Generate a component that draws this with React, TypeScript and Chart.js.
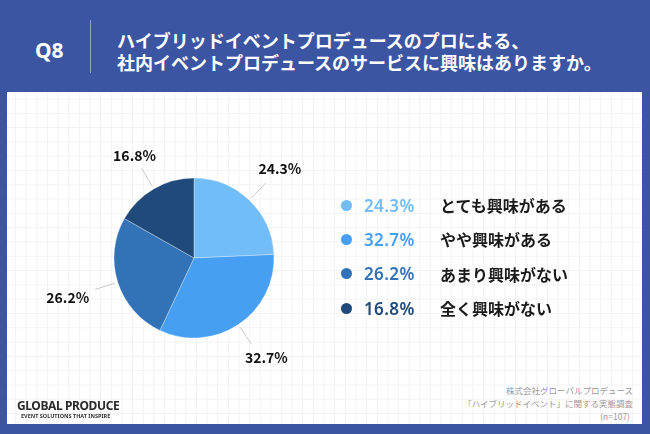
import React, { useEffect, useRef } from "react";
import { Chart, registerables } from "chart.js";

Chart.register(...registerables);

const categories = ["とても興味がある", "やや興味がある", "あまり興味がない", "全く興味がない"];
const values = [24.3, 32.7, 26.2, 16.8];
const colors = ["#72bcf7", "#479ff4", "#3273b7", "#1f4a7b"];
const questionNo = "Q8";
const titleLines = [
  "ハイブリッドイベントプロデュースのプロによる、",
  "社内イベントプロデュースのサービスに興味はありますか。",
];
const sourceLines = ["株式会社グローバルプロデュース", "「ハイブリッドイベント」に関する実態調査", "(n=107)"];
const logoMain = "GLOBAL PRODUCE";
const logoSub = "EVENT SOLUTIONS THAT INSPIRE";

const FONT = '"Noto Sans CJK JP", "Noto Sans", sans-serif';
const BLUE = "rgb(59,85,163)";

const fmt = (v: number) => `${v.toFixed(1)}%`;

const outLabels = {
  id: "outLabels",
  afterDatasetsDraw(chart: any) {
    const ctx = chart.ctx;
    const meta = chart.getDatasetMeta(0);
    meta.data.forEach((arc: any, i: number) => {
      const { x, y, startAngle, endAngle, outerRadius } = arc.getProps(
        ["x", "y", "startAngle", "endAngle", "outerRadius"],
        true
      );
      const mid = (startAngle + endAngle) / 2;
      const c = Math.cos(mid);
      const s = Math.sin(mid);
      ctx.save();
      ctx.strokeStyle = "#c9c9c9";
      ctx.lineWidth = 1;
      ctx.beginPath();
      ctx.moveTo(x + c * (outerRadius + 3), y + s * (outerRadius + 3));
      ctx.lineTo(x + c * (outerRadius + 24), y + s * (outerRadius + 24));
      ctx.stroke();
      const d = outerRadius + 22 + 32 * Math.abs(c);
      ctx.fillStyle = "#111";
      ctx.font = `bold 14px ${FONT}`;
      ctx.textAlign = "center";
      ctx.textBaseline = "middle";
      ctx.fillText(fmt(values[i]), x + c * d + (s > 0.3 && c > 0 ? 6 : 0), y + s * d);
      ctx.restore();
    });
  },
};

function PieChart() {
  const ref = useRef<HTMLCanvasElement | null>(null);
  useEffect(() => {
    if (!ref.current) return;
    const chart = new Chart(ref.current, {
      type: "pie",
      data: {
        labels: categories,
        datasets: [
          {
            data: values,
            backgroundColor: colors,
            borderColor: "rgba(255,255,255,0.3)",
            borderWidth: 1,
          },
        ],
      },
      options: {
        animation: false,
        responsive: false,
        maintainAspectRatio: false,
        layout: { padding: { left: 99.5, right: 99.5, top: 69.5, bottom: 69.5 } },
        plugins: { legend: { display: false }, tooltip: { enabled: false } },
      },
      plugins: [outLabels],
    });
    return () => chart.destroy();
  }, []);
  return (
    <canvas
      ref={ref}
      width={360}
      height={300}
      style={{ position: "absolute", left: 13.5, top: 108, width: 360, height: 300 }}
    />
  );
}

export default function App() {
  return (
    <div
      style={{
        position: "fixed",
        left: 0,
        top: 0,
        width: 650,
        height: 434,
        background: BLUE,
        overflow: "hidden",
        fontFamily: FONT,
      }}
    >
      {/* header */}
      <div
        style={{
          position: "absolute",
          left: 35,
          top: 36,
          color: "#fff",
          fontSize: 21,
          fontWeight: 700,
          lineHeight: "28px",
          fontFamily: '"Noto Sans", sans-serif',
        }}
      >
        {questionNo}
      </div>
      <div style={{ position: "absolute", left: 90, top: 20, width: 1, height: 53, background: "rgba(255,255,255,0.45)" }} />
      <div
        style={{
          position: "absolute",
          left: 117,
          top: 29,
          color: "#fff",
          fontSize: 18,
          fontWeight: 700,
          lineHeight: "22px",
          whiteSpace: "nowrap",
        }}
      >
        {titleLines.map((t, i) => (
          <div key={i}>{t}</div>
        ))}
      </div>

      {/* panel */}
      <div
        style={{
          position: "absolute",
          left: 7,
          top: 92,
          width: 635,
          height: 332,
          background: "#fff",
          backgroundImage:
            "linear-gradient(to right, #f2f2f2 1px, transparent 1px), linear-gradient(to bottom, #f2f2f2 1px, transparent 1px)",
          backgroundSize: "10.65px 14.3px",
          backgroundPosition: "8px 6.5px",
        }}
      />

      <PieChart />

      {/* legend */}
      {categories.map((cat, i) => (
        <div
          key={cat}
          style={{
            position: "absolute",
            left: 341,
            top: 205 + i * 34.4 - 12,
            height: 24,
            display: "flex",
            alignItems: "center",
            whiteSpace: "nowrap",
          }}
        >
          <div style={{ width: 11, height: 11, borderRadius: "50%", background: colors[i], marginRight: 12 }} />
          <div
            style={{
              width: 76,
              color: colors[i],
              fontSize: 17,
              fontWeight: 600,
              letterSpacing: 0.4,
              fontFamily: '"Noto Sans", sans-serif',
            }}
          >
            {fmt(values[i])}
          </div>
          <div style={{ color: "#1a1a1a", fontSize: 16, fontWeight: 700 }}>{cat}</div>
        </div>
      ))}

      {/* footer logo */}
      <div style={{ position: "absolute", left: 17, top: 399, whiteSpace: "nowrap" }}>
        <div
          style={{
            fontFamily: '"Noto Sans", sans-serif',
            fontSize: 12,
            fontWeight: 700,
            color: "#2b2b2b",
            lineHeight: "14px",
            letterSpacing: -0.4,
          }}
        >
          {logoMain}
        </div>
        <div
          style={{
            fontFamily: '"Noto Sans", sans-serif',
            fontSize: 5.5,
            fontWeight: 700,
            color: "#333",
            lineHeight: "7px",
            marginLeft: 4,
          }}
        >
          {logoSub}
        </div>
      </div>

      {/* source */}
      <div
        style={{
          position: "absolute",
          right: 17,
          top: 384,
          textAlign: "right",
          color: "#9a9a9a",
          fontSize: 8.5,
          lineHeight: "13px",
          whiteSpace: "nowrap",
        }}
      >
        {sourceLines.map((t, i) => (
          <div key={i} style={i === 2 ? { marginRight: 3 } : undefined}>
            {t}
          </div>
        ))}
      </div>
    </div>
  );
}
